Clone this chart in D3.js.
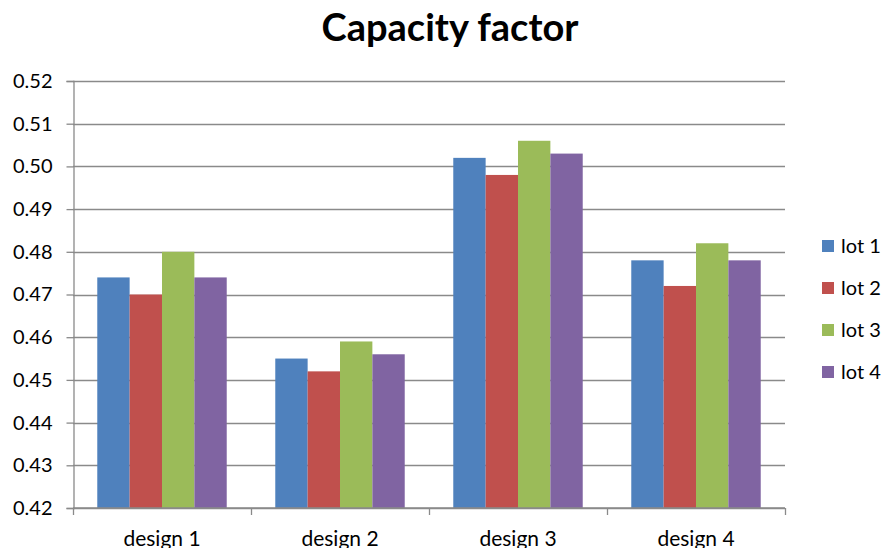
<!DOCTYPE html>
<html>
<head>
<meta charset="utf-8">
<script src="https://cdn.jsdelivr.net/npm/d3@7"></script>
<style>
  html, body { margin: 0; padding: 0; background: #fff; }
  svg { display: block; }
</style>
</head>
<body>
<svg id="chart" width="883" height="548"></svg>
<script>
// Capacity factor by design and production lot
const designs = ["design 1", "design 2", "design 3", "design 4"];
const lots = ["lot 1", "lot 2", "lot 3", "lot 4"];
const lot1 = [0.474, 0.455, 0.502, 0.478];
const lot2 = [0.470, 0.452, 0.498, 0.472];
const lot3 = [0.480, 0.459, 0.506, 0.482];
const lot4 = [0.474, 0.456, 0.503, 0.478];
const yTicks = [0.42, 0.43, 0.44, 0.45, 0.46, 0.47, 0.48, 0.49, 0.50, 0.51, 0.52];
const colors = ["#4F81BD", "#C0504D", "#9BBB59", "#8064A2"];

const series = [lot1, lot2, lot3, lot4];
const font = "Lato, 'Open Sans', sans-serif";

const svg = d3.select("#chart");
const plot = { left: 73, right: 785, top: 81, bottom: 508 };

const y = d3.scaleLinear().domain([0.42, 0.52]).range([plot.bottom, plot.top]);
const x0 = d3.scaleBand().domain(designs).range([plot.left, plot.right])
  .paddingInner(1.5 / 5.5).paddingOuter(0.75 / 5.5);
const x1 = d3.scaleBand().domain(lots).range([0, x0.bandwidth()]);

// gridlines
svg.append("g")
  .selectAll("line").data(yTicks).join("line")
  .attr("x1", plot.left).attr("x2", plot.right)
  .attr("y1", d => Math.round(y(d)) + 0.5).attr("y2", d => Math.round(y(d)) + 0.5)
  .attr("stroke", "#8a8a8a").attr("stroke-width", 1.3);

// bars
const groups = svg.append("g").selectAll("g").data(designs).join("g")
  .attr("transform", d => `translate(${x0(d)},0)`);
groups.selectAll("rect")
  .data((d, i) => lots.map((l, j) => ({ lot: l, value: series[j][i], j })))
  .join("rect")
  .attr("x", d => x1(d.lot))
  .attr("width", x1.bandwidth())
  .attr("y", d => y(d.value))
  .attr("height", d => y(0.42) - y(d.value))
  .attr("fill", d => colors[d.j]);

// y axis
const yAxis = d3.axisLeft(y).tickValues(yTicks).tickFormat(d3.format(".2f"))
  .tickSize(7).tickPadding(14);
const gy = svg.append("g").attr("transform", `translate(${plot.left + 0.5},0)`).call(yAxis);
gy.select(".domain").attr("stroke", "#8a8a8a").attr("stroke-width", 1.3);
gy.selectAll(".tick line").attr("stroke", "#8a8a8a").attr("stroke-width", 1.3);
gy.selectAll(".tick text").attr("font-family", font).attr("font-size", 20).attr("fill", "#000");

// x axis with ticks between categories
const catEdges = d3.range(designs.length + 1).map(i => plot.left + i * x0.step());
const gx = svg.append("g");
gx.append("line")
  .attr("x1", plot.left).attr("x2", plot.right)
  .attr("y1", plot.bottom).attr("y2", plot.bottom)
  .attr("stroke", "#8a8a8a").attr("stroke-width", 1.3);
gx.selectAll("line.tk").data(catEdges).join("line").attr("class", "tk")
  .attr("x1", d => Math.round(d) + 0.5).attr("x2", d => Math.round(d) + 0.5)
  .attr("y1", plot.bottom).attr("y2", plot.bottom + 7)
  .attr("stroke", "#8a8a8a").attr("stroke-width", 1.3);
gx.selectAll("text").data(designs).join("text")
  .attr("x", d => x0(d) + x0.bandwidth() / 2)
  .attr("y", 546)
  .attr("text-anchor", "middle")
  .attr("font-family", font).attr("font-size", 21).attr("fill", "#000")
  .text(d => d);

// title
svg.append("text")
  .attr("x", 450).attr("y", 41)
  .attr("text-anchor", "middle")
  .attr("font-family", font).attr("font-weight", "bold").attr("font-size", 38)
  .text("Capacity factor");

// legend
const legend = svg.append("g").selectAll("g").data(lots).join("g")
  .attr("transform", (d, i) => `translate(822,${240 + i * 42})`);
legend.append("rect").attr("width", 12).attr("height", 12)
  .attr("fill", (d, i) => colors[i]);
legend.append("text").attr("x", 19).attr("y", 13)
  .attr("font-family", font).attr("font-size", 20).attr("fill", "#000")
  .text(d => d);
</script>
</body>
</html>
